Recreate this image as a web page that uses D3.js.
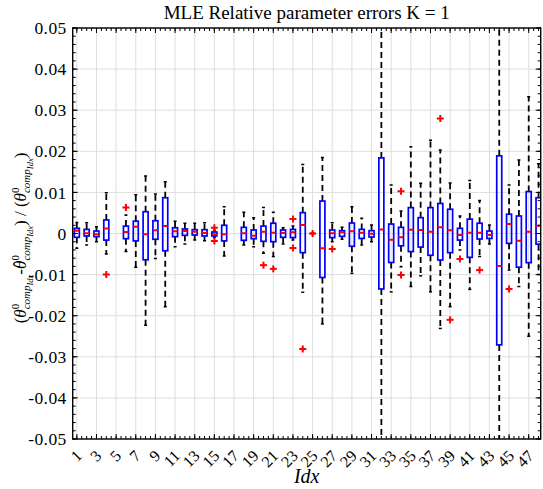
<!DOCTYPE html>
<html>
<head>
<meta charset="utf-8">
<script src="https://cdn.jsdelivr.net/npm/d3@7"></script>
<style>
body { margin: 0; background: #fff; }
svg { display: block; }
</style>
</head>
<body>
<div id="chart"></div>
<script>
// one entry per parameter index (1..48), null where nothing is drawn
var idx = d3.range(1, 49);
var q1 = [-0.00093, -0.0006, -0.00077, -0.0016, null, -0.00126, -0.0018, -0.0064, -0.0014, -0.0042,
    -0.00077, -0.00045, -0.00036, -0.0006, -0.0006, -0.0018, null, -0.00166, -0.00126, -0.0019,
    -0.002, -0.00093, -0.001, -0.00466, 0, -0.0107, -0.001, -0.00069, -0.0031, -0.0012,
    -0.00085, -0.0135, -0.00705, -0.003, -0.0044, -0.0033, -0.0053, -0.00645, -0.00466, -0.0016,
    -0.0058, -0.00134, -0.0012, -0.0271, -0.0024, -0.0082, -0.0071, -0.0026];
var med = [0.00065, 0.00004, -0.0002, 0.0012, null, 0.00036, 0.00166, -0.0002, 0.00077, 0.00182,
    0.00053, 0.0006, 0.00045, 0.00012, -0.0002, -0.0002, null, 0.00004, -0.00053, 0.00045,
    0.0002, 0.00012, 0.00028, 0.00207, 0, -0.0036, 0.00004, 0.00028, 0.00053, 0.0002,
    -0.00004, 0.001, -0.0015, -0.00093, 0.00093, 0.00085, 0.00045, 0.0015, 0.00077, -0.00036,
    0.0002, 0.0002, -0.00036, -0.0079, 0.0023, -0.00175, 0.00045, 0.0019];
var q3 = [0.00126, 0.001, 0.0006, 0.0033, null, 0.0018, 0.003, 0.0053, 0.0031, 0.0087,
    0.0014, 0.0011, 0.00093, 0.00093, 0.00036, 0.002, null, 0.0015, 0.00085, 0.0018,
    0.0025, 0.00085, 0.001, 0.00507, 0, 0.0079, 0.00085, 0.00069, 0.00255, 0.001,
    0.00069, 0.0184, 0.0023, 0.0015, 0.0063, 0.00385, 0.0063, 0.0073, 0.0059, 0.00126,
    0.0035, 0.0025, 0.0006, 0.0189, 0.0047, 0.00426, 0.0102, 0.0087];
var whLo = [-0.0036, -0.0028, -0.002, -0.005, null, -0.0044, -0.0082, -0.0223, -0.0061, -0.0178,
    -0.0032, -0.00255, -0.0016, -0.00175, -0.001, -0.0055, null, -0.0028, -0.0032, -0.0048,
    -0.0056, -0.00255, -0.0016, -0.0143, 0, -0.022, -0.002, -0.0014, -0.0097, -0.0028,
    -0.002, -0.06, -0.0142, -0.0081, -0.0129, -0.0103, -0.0142, -0.0231, -0.0178, -0.004,
    -0.0136, -0.0056, -0.00255, -0.06, -0.0089, -0.0129, -0.025, -0.01];
var whHi = [0.0027, 0.0026, 0.00166, 0.0099, null, 0.0045, 0.0094, 0.014, 0.0096, 0.0126,
    0.003, 0.0025, 0.0025, 0.0026, 0.0008, 0.0065, null, 0.00515, 0.00385, 0.0063,
    0.00515, 0.0014, 0.0018, 0.0168, 0, 0.0185, 0.0026, 0.0015, 0.0065, 0.0037,
    0.00207, 0.06, 0.0118, 0.0055, 0.0211, 0.0122, 0.0227, 0.0203, 0.0123, 0.00426,
    0.0129, 0.008, 0.00207, 0.06, 0.0118, 0.0179, 0.0333, 0.017];
var outIdx = [4, 6, 15, 15, 20, 21, 23, 23, 24, 25, 27, 34, 34, 38, 39, 40, 42, 45];
var outVal = [-0.01, 0.0063, 0.0014, -0.0018, -0.0077, -0.0086, 0.0035, -0.0035, -0.0281, 0,
    -0.0038, 0.0103, -0.0101, 0.028, -0.021, -0.0062, -0.0089, -0.0135];

var xTicks = d3.range(1, 48, 2);
var yTicks = [-0.05, -0.04, -0.03, -0.02, -0.01, 0, 0.01, 0.02, 0.03, 0.04, 0.05];
var yTickLabels = ["-0.05", "-0.04", "-0.03", "-0.02", "-0.01", "0", "0.01", "0.02", "0.03", "0.04", "0.05"];

var width = 543, height = 489;
var plotL = 72.7, plotR = 540.7, plotT = 28, plotB = 439;
var serif = "Liberation Serif";

var svg = d3.select("#chart").append("svg")
    .attr("width", width)
    .attr("height", height)
    .attr("font-family", serif);

var x = d3.scaleLinear().domain([0.58, 48.22]).range([plotL, plotR]);
var y = d3.scaleLinear().domain([-0.05, 0.05]).range([plotB, plotT]);

svg.append("defs").append("clipPath").attr("id", "plot-clip")
    .append("rect")
    .attr("x", plotL).attr("y", plotT)
    .attr("width", plotR - plotL).attr("height", plotB - plotT);

// grid
var grid = svg.append("g").attr("stroke", "#dedede").attr("stroke-width", 1);
grid.selectAll("line.gx").data(xTicks).enter().append("line")
    .attr("x1", d => x(d)).attr("x2", d => x(d))
    .attr("y1", plotT).attr("y2", plotB);
grid.selectAll("line.gy").data(yTicks).enter().append("line")
    .attr("x1", plotL).attr("x2", plotR)
    .attr("y1", d => y(d)).attr("y2", d => y(d));

// boxes
var boxW = 5;
var rows = idx.map(function (d, i) {
    return {i: d, q1: q1[i], med: med[i], q3: q3[i], lo: whLo[i], hi: whHi[i]};
}).filter(d => d.med !== null);

var plot = svg.append("g").attr("clip-path", "url(#plot-clip)");
var box = plot.selectAll("g.box").data(rows).enter().append("g").attr("class", "box");

box.append("line")
    .attr("x1", d => x(d.i)).attr("x2", d => x(d.i))
    .attr("y1", d => y(d.q3)).attr("y2", d => y(d.hi))
    .attr("stroke", "#000").attr("stroke-width", 1.8).attr("stroke-dasharray", "6,4");
box.append("line")
    .attr("x1", d => x(d.i)).attr("x2", d => x(d.i))
    .attr("y1", d => y(d.q1)).attr("y2", d => y(d.lo))
    .attr("stroke", "#000").attr("stroke-width", 1.8).attr("stroke-dasharray", "6,4");
box.append("line")
    .attr("x1", d => x(d.i) - 1.5).attr("x2", d => x(d.i) + 1.5)
    .attr("y1", d => y(d.hi)).attr("y2", d => y(d.hi))
    .attr("stroke", "#000").attr("stroke-width", 1.5);
box.append("line")
    .attr("x1", d => x(d.i) - 1.5).attr("x2", d => x(d.i) + 1.5)
    .attr("y1", d => y(d.lo)).attr("y2", d => y(d.lo))
    .attr("stroke", "#000").attr("stroke-width", 1.5);
box.append("rect")
    .attr("x", d => x(d.i) - boxW / 2)
    .attr("y", d => y(d.q3))
    .attr("width", boxW)
    .attr("height", d => y(d.q1) - y(d.q3))
    .attr("fill", "none").attr("stroke", "#0000ff").attr("stroke-width", 1.7);
box.append("line")
    .attr("x1", d => x(d.i) - boxW / 2).attr("x2", d => x(d.i) + boxW / 2)
    .attr("y1", d => y(d.med)).attr("y2", d => y(d.med))
    .attr("stroke", "#ff0000").attr("stroke-width", 2);

// outliers
var outs = plot.selectAll("g.out").data(outIdx.map((d, i) => [d, outVal[i]])).enter().append("g")
    .attr("transform", d => `translate(${x(d[0])},${y(d[1])})`)
    .attr("stroke", "#ff0000").attr("stroke-width", 2);
outs.append("line").attr("x1", -3.5).attr("x2", 3.5).attr("y1", 0).attr("y2", 0);
outs.append("line").attr("x1", 0).attr("x2", 0).attr("y1", -3.5).attr("y2", 3.5);

// axes frame and ticks
var ax = svg.append("g").attr("stroke", "#000").attr("stroke-width", 1);
var yMinor = d3.range(-0.05, 0.0501, 0.002);
var xMinor = d3.range(1, 48.01, 0.5);
function yTick(vals, len) {
    vals.forEach(function (v) {
        ax.append("line").attr("x1", plotL).attr("x2", plotL + len).attr("y1", y(v)).attr("y2", y(v));
        ax.append("line").attr("x1", plotR).attr("x2", plotR - len).attr("y1", y(v)).attr("y2", y(v));
    });
}
function xTick(vals, len) {
    vals.forEach(function (v) {
        ax.append("line").attr("y1", plotB).attr("y2", plotB - len).attr("x1", x(v)).attr("x2", x(v));
        ax.append("line").attr("y1", plotT).attr("y2", plotT + len).attr("x1", x(v)).attr("x2", x(v));
    });
}
yTick(yMinor, 3);
yTick(yTicks, 5);
xTick(xMinor, 3);
xTick(xTicks, 5);
svg.append("rect")
    .attr("x", plotL).attr("y", plotT)
    .attr("width", plotR - plotL).attr("height", plotB - plotT)
    .attr("fill", "none").attr("stroke", "#000").attr("stroke-width", 1.4);

// tick labels
svg.append("g").selectAll("text").data(yTicks).enter().append("text")
    .attr("x", plotL - 6)
    .attr("y", d => y(d))
    .attr("dy", "0.35em")
    .attr("text-anchor", "end")
    .attr("font-size", 17.5)
    .attr("letter-spacing", 0.4)
    .text((d, i) => yTickLabels[i]);

svg.append("g").selectAll("text").data(xTicks).enter().append("text")
    .attr("transform", d => `translate(${x(d) + 2},${plotB + 14}) rotate(-45)`)
    .attr("dy", "0.35em")
    .attr("text-anchor", "end")
    .attr("font-size", 16)
    .text(d => d);

// title and x label
svg.append("text")
    .attr("x", (plotL + plotR) / 2).attr("y", 19)
    .attr("text-anchor", "middle")
    .attr("font-size", 19)
    .text("MLE Relative parameter errors K = 1");

svg.append("text")
    .attr("x", (plotL + plotR) / 2).attr("y", 483)
    .attr("text-anchor", "middle")
    .attr("font-size", 20).attr("font-style", "italic")
    .text("Idx");

// y label: pieces laid out one after another, "keep" pieces do not advance
var ylab = svg.append("g").attr("transform", "translate(26,238) rotate(-90)");
var sub = [{t: "0", s: 11, b: -7, keep: true}, {t: "comp", s: 11, b: 4, it: true}, {t: "Idx", s: 8.5, b: 7, it: true}];
var parts = [{t: "(", s: 17}, {t: "θ", s: 17, it: true}].concat(sub)
    .concat([{t: "-", s: 17}, {t: "ˆ", s: 14, b: -3, dx: 2.5, keep: true}, {t: "θ", s: 17, it: true}]).concat(sub)
    .concat([{t: ") / (", s: 17}, {t: "θ", s: 17, it: true}]).concat(sub)
    .concat([{t: ")", s: 17}]);
var cx = 0;
var nodes = parts.map(function (p) {
    var t = ylab.append("text")
        .attr("x", cx + (p.dx || 0)).attr("y", p.b || 0)
        .attr("font-size", p.s)
        .attr("font-style", p.it ? "italic" : "normal")
        .style("white-space", "pre")
        .text(p.t);
    if (!p.keep) cx += t.node().getComputedTextLength();
    return t;
});
nodes.forEach(t => t.attr("x", +t.attr("x") - cx / 2));
</script>
</body>
</html>
